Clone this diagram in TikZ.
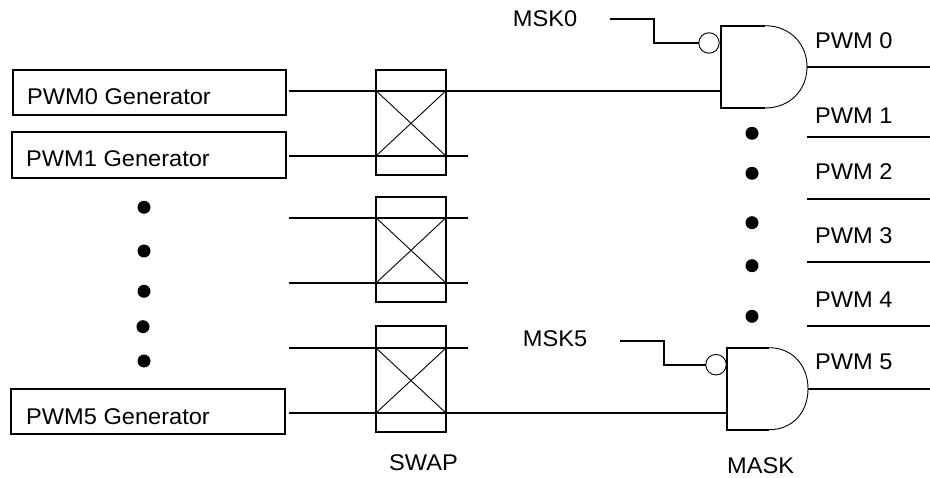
\documentclass[tikz,border=0pt]{standalone}
\usepackage{fontspec}
\setmainfont[FakeStretch=1.04]{Liberation Sans}
\begin{document}
\begin{tikzpicture}[x=1pt,y=-1pt,
  lbl/.style={anchor=base west,inner sep=0pt,font=\fontsize{22.7}{26}\selectfont},
  genbox/.style={draw=black,line width=1.7pt,outer sep=0pt,minimum height=45pt,inner sep=0pt,anchor=north west},
  swapbox/.style={draw=black,line width=1.7pt,outer sep=0pt,minimum width=70pt,minimum height=105pt,inner sep=0pt,anchor=north west},
  bubble/.style={draw=black,line width=0.9pt,outer sep=0pt,fill=white,circle,inner sep=0pt,minimum size=20.5pt},
  wire/.style={line width=1.7pt},
  thinw/.style={line width=0.9pt},
  gatew/.style={line width=1.7pt},
  dotn/.style={circle,fill=black,inner sep=0pt,minimum size=13pt}]
\useasboundingbox (0,0) rectangle (930,478);
% generators
\node[genbox,minimum width=273pt] (gen0) at (13,70) {};
\node[genbox,minimum width=274pt,minimum height=46pt] (gen1) at (12,132) {};
\node[genbox,minimum width=274pt] (gen5) at (11,389) {};
\node[lbl] (gen0t) at (27,105) {PWM0 Generator};
\node[lbl] (gen1t) at (26,167) {PWM1 Generator};
\node[lbl] (gen5t) at (26,424.7) {PWM5 Generator};
% swap boxes
\node[swapbox] (sw0) at (376,70) {};
\node[swapbox] (sw1) at (376,197) {};
\node[swapbox,minimum height=106pt] (sw2) at (376,326) {};
% wire ends
\coordinate (a0) at (289,90.7);
\coordinate (a1) at (289,156);
\coordinate (a2) at (289,217.7);
\coordinate (a3) at (289,283);
\coordinate (a4) at (289,348);
\coordinate (a5) at (289,413);
\coordinate (b1) at (468,156);
\coordinate (b2) at (468,217.7);
\coordinate (b3) at (468,283);
\coordinate (b4) at (468,348);
% gates
\coordinate (g0i) at (721,90.7);
\coordinate (g0o) at (807,66.8);
\coordinate (g5i) at (727,413);
\coordinate (g5o) at (808,388.7);
\draw[wire] (a0) -- (g0i);
\draw[wire] (a1) -- (b1);
\draw[wire] (a2) -- (b2);
\draw[wire] (a3) -- (b3);
\draw[wire] (a4) -- (b4);
\draw[wire] (a5) -- (g5i);
% crossings
\foreach \t/\b in {a0/a1,a2/a3,a4/a5}{
  \draw[thinw] (\t -| sw0.west) -- (\b -| sw0.east);
  \draw[thinw] (\b -| sw0.west) -- (\t -| sw0.east);
}
% gate 0
\draw[gatew] (765,25.7) -- (721,25.7) -- (721,108) -- (765,108);
\draw[thinw] (765,25.7) .. controls (790,25.7) and (807,44) .. (g0o) .. controls (807,90) and (790,108) .. (765,108);
% gate 5
\draw[gatew] (769,347.7) -- (727,347.7) -- (727,429.7) -- (769,429.7);
\draw[thinw] (769,347.7) .. controls (793,347.7) and (808,366) .. (g5o) .. controls (808,412) and (793,429.7) .. (769,429.7);
% bubbles
\node[bubble] (bub0) at (709,43) {};
\node[bubble] (bub5) at (716,364.7) {};
\coordinate (m0) at (610,19);
\coordinate (m5) at (620,340.7);
\draw[wire] (m0) -- (654,19) -- (654,43) -- (bub0.west);
\draw[wire] (m5) -- (664,340.7) -- (664,364.7) -- (bub5.west);
% outputs
\coordinate (o0) at (930,66.8);
\coordinate (o5) at (930,388.7);
\draw[wire] (g0o) -- (o0);
\draw[wire] (g5o) -- (o5);
\coordinate (p1a) at (807,136.7); \coordinate (p1b) at (930,136.7);
\coordinate (p2a) at (807,198.7); \coordinate (p2b) at (930,198.7);
\coordinate (p3a) at (807,261.7); \coordinate (p3b) at (930,261.7);
\coordinate (p4a) at (807,325.7); \coordinate (p4b) at (930,325.7);
\draw[wire] (p1a) -- (p1b);
\draw[wire] (p2a) -- (p2b);
\draw[wire] (p3a) -- (p3b);
\draw[wire] (p4a) -- (p4b);
% dots
\node[dotn] (dr1) at (752,133.3) {};
\node[dotn] (dr2) at (752,173.3) {};
\node[dotn] (dr3) at (752,222.7) {};
\node[dotn] (dr4) at (752,265.7) {};
\node[dotn] (dr5) at (752,316.3) {};
\node[dotn] (dl1) at (144,207.3) {};
\node[dotn] (dl2) at (144,251) {};
\node[dotn] (dl3) at (144,291.3) {};
\node[dotn] (dl4) at (143,326.7) {};
\node[dotn] (dl5) at (144,361) {};
% labels
\node[lbl] (tm0) at (512.7,26.7) {MSK0};
\node[lbl] (tm5) at (522.7,346.7) {MSK5};
\node[lbl] (tp0) at (815,49) {PWM 0};
\node[lbl] (tp1) at (815,124) {PWM 1};
\node[lbl] (tp2) at (815,180) {PWM 2};
\node[lbl] (tp3) at (815,243.5) {PWM 3};
\node[lbl] (tp4) at (815,308) {PWM 4};
\node[lbl] (tp5) at (815,369.7) {PWM 5};
\node[lbl] (tswap) at (389,470.7) {SWAP};
\node[lbl] (tmask) at (727,474) {MASK};
\end{tikzpicture}
\end{document}
